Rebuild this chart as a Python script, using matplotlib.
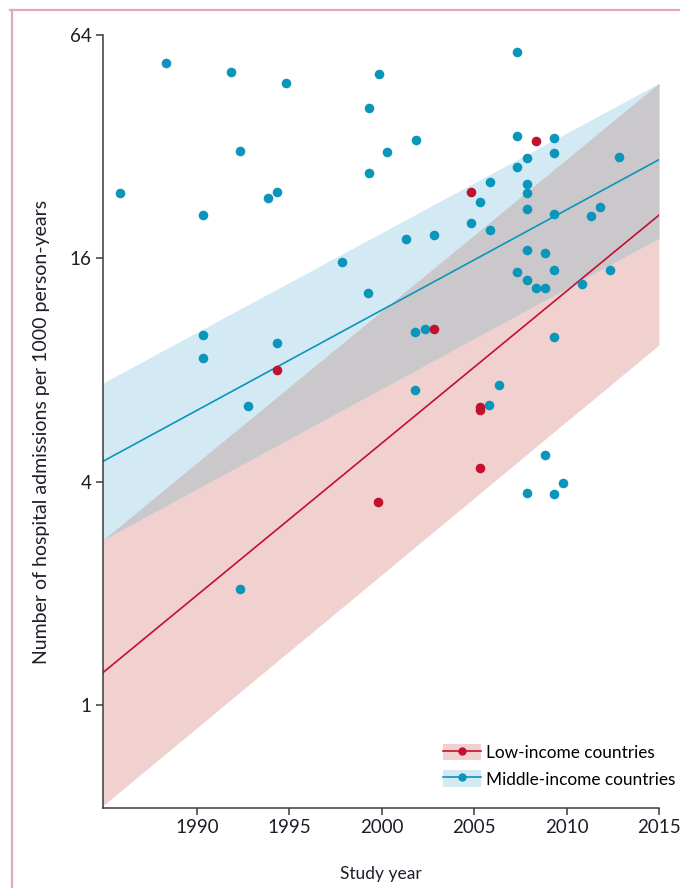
import numpy as np
import matplotlib
matplotlib.use("Agg")
import matplotlib.pyplot as plt
from matplotlib.lines import Line2D
from matplotlib.patches import Patch

plt.rcParams["font.family"] = ["Lato", "DejaVu Sans"]

# study points (year, admissions per 1000 person-years)
mid_year = [1985.84, 1988.34, 1991.84, 1994.83, 1999.84, 2007.34, 1992.33, 1999.33,
            2000.29, 2001.84, 1999.33, 1990.32, 1993.84, 1994.34, 1997.84, 1999.26,
            2001.32, 2002.85, 1990.32, 1990.32, 1994.33, 1992.79, 1992.31, 2001.82,
            2002.35, 2001.82, 2004.85, 2005.32, 2005.84, 2005.84, 2007.34, 2007.34,
            2007.85, 2007.85, 2007.85, 2007.85, 2009.34, 2009.34, 2009.34, 2012.83,
            2011.33, 2011.83, 2007.85, 2008.84, 2007.34, 2009.34, 2007.85, 2008.33,
            2008.84, 2012.35, 2010.85, 2009.34, 2006.35, 2005.82, 2008.84, 2007.85,
            2009.32, 2009.83]
mid_rate = [24.05, 53.7, 50.8, 47.4, 50.2, 57.7, 31.2, 40.6,
            30.9, 33.3, 27.1, 20.9, 23.3, 24.2, 15.6, 12.9,
            18.0, 18.5, 9.94, 8.60, 9.44, 6.40, 2.05, 10.11,
            10.30, 7.04, 19.96, 22.66, 25.7, 19.08, 34.1, 28.1,
            29.8, 25.3, 24.0, 21.7, 33.8, 30.8, 21.1, 29.9,
            20.8, 22.0, 16.85, 16.5, 14.7, 14.9, 14.0, 13.3,
            13.3, 14.9, 13.6, 9.80, 7.27, 6.44, 4.71, 3.72,
            3.71, 3.96]

low_year = [2008.33, 2004.84, 1994.33, 2002.83, 2005.32, 2005.32, 2005.32, 1999.82]
low_rate = [33.1, 24.2, 8.00, 10.3, 6.37, 6.24, 4.35, 3.53]

# regression fits and 95% bands at the two ends of the x range
fit_years = [1984.9, 2015]
mid_fit = [4.53, 29.5]
mid_lo = [2.78, 18.1]
mid_hi = [7.37, 47.4]
low_fit = [1.22, 20.9]
low_lo = [0.534, 9.34]
low_hi = [2.78, 47.4]

x_ticks = [1990, 1995, 2000, 2005, 2010, 2015]
y_ticks = [1, 4, 16, 64]

BLUE = "#0a95ba"
RED = "#c2102f"
BLUE_BAND = "#d3eaf4"
RED_BAND = "#f1d0d0"
OVERLAP = "#cbc8cc"
TEXT = "#1e1e28"

fig = plt.figure(figsize=(6.8, 8.88), dpi=100)
ax = fig.add_axes([0.151, 0.0897, 0.818, 0.871])

ax.fill_between(fit_years, low_lo, low_hi, color=RED_BAND, linewidth=0, zorder=1)
ax.fill_between(fit_years, mid_lo, mid_hi, color=BLUE_BAND, linewidth=0, zorder=1)
ov_lo = np.maximum(mid_lo, low_lo)
ov_hi = np.minimum(mid_hi, low_hi)
ax.fill_between(fit_years, ov_lo, ov_hi, color=OVERLAP, linewidth=0, zorder=1.5)

ax.plot(fit_years, mid_fit, color=BLUE, linewidth=1.2, zorder=2)
ax.plot(fit_years, low_fit, color=RED, linewidth=1.2, zorder=2)

ax.scatter(mid_year, mid_rate, s=48, color=BLUE, linewidths=0, zorder=3)
ax.scatter(low_year, low_rate, s=48, color=RED, linewidths=0, zorder=4)

ax.set_yscale("log", base=2)
ax.set_ylim(0.526, 64)
ax.set_xlim(1984.9, 2015)
ax.set_yticks(y_ticks)
ax.set_yticklabels([str(v) for v in y_ticks])
ax.yaxis.set_minor_locator(matplotlib.ticker.NullLocator())
ax.set_xticks(x_ticks)
ax.set_xticklabels([str(v) for v in x_ticks])

for side in ["top", "right"]:
    ax.spines[side].set_visible(False)
for side in ["left", "bottom"]:
    ax.spines[side].set_color("#3a3a3a")
    ax.spines[side].set_linewidth(1.1)
ax.tick_params(length=5, width=1.1, color="#3a3a3a", labelsize=13.5, labelcolor=TEXT, pad=3)

ax.set_xlabel("Study year", fontsize=12.5, color=TEXT, labelpad=21)
ax.set_ylabel("Number of hospital admissions per 1000 person-years", fontsize=14,
              color=TEXT)
ax.yaxis.set_label_coords(-0.094, 0.487)

handles = [
    (Patch(facecolor=RED_BAND, edgecolor="none"),
     Line2D([], [], color=RED, linewidth=1.2, marker="o", markersize=6, markeredgewidth=0)),
    (Patch(facecolor=BLUE_BAND, edgecolor="none"),
     Line2D([], [], color=BLUE, linewidth=1.2, marker="o", markersize=6, markeredgewidth=0)),
]
ax.legend(handles, ["Low-income countries", "Middle-income countries"], loc="lower left",
          bbox_to_anchor=(0.6, 0.018), frameon=False, fontsize=12.4, handlelength=2.2,
          handleheight=1.1, handletextpad=0.3, labelspacing=0.55, borderaxespad=0)

# pink journal frame on the top and left edges
fig.add_artist(Line2D([10 / 680, 1], [1 - 10 / 888, 1 - 10 / 888], color="#e6a7b4", linewidth=1.6))
fig.add_artist(Line2D([12 / 680, 12 / 680], [1 - 10 / 888, 0], color="#e6a7b4", linewidth=1.6))

fig.savefig("out.png", dpi=100)
